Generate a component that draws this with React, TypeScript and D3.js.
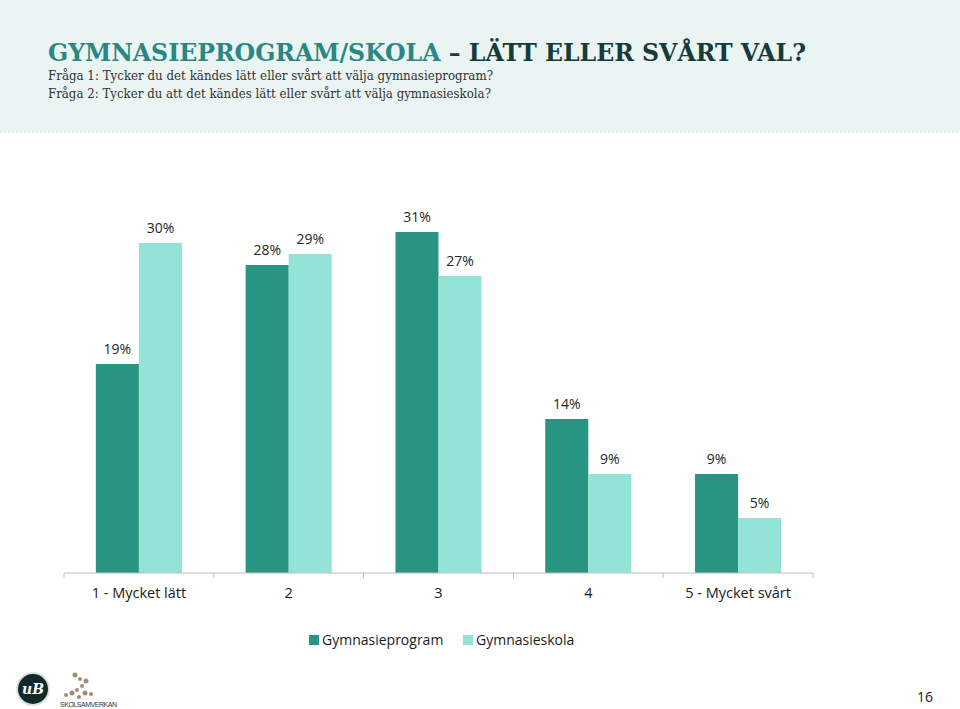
import React, { useRef, useEffect, useCallback } from 'react';
import * as d3 from 'd3';

const categories = ['1 - Mycket lätt', '2', '3', '4', '5 - Mycket svårt'];
const seriesNames = ['Gymnasieprogram', 'Gymnasieskola'];
const program = [19, 28, 31, 14, 9];
const skola = [30, 29, 27, 9, 5];

const width = 960;
const height = 709;
const margin = { top: 140, right: 147, bottom: 136, left: 64 };
const colors = ['#279582', '#93e3d6'];

const App: React.FC = () => {
  const chartRef = useRef<HTMLDivElement>(null);

  const draw = useCallback(() => {
    d3.select(chartRef.current).selectAll('svg').remove();
    const svg = d3
      .select(chartRef.current)
      .append('svg')
      .attr('width', width)
      .attr('height', height)
      .style('position', 'absolute')
      .style('left', 0)
      .style('top', 0)
      .style('background', '#fff');

    // header band
    svg.append('rect').attr('x', 0).attr('y', 0).attr('width', width).attr('height', 132).attr('fill', '#e9f4f3');
    svg
      .append('line')
      .attr('x1', 0)
      .attr('x2', width)
      .attr('y1', 132.5)
      .attr('y2', 132.5)
      .attr('stroke', '#d4e4e2')
      .attr('stroke-dasharray', '2,2');

    const title = svg
      .append('text')
      .attr('x', 48)
      .attr('y', 61)
      .attr('font-family', '"DejaVu Serif", serif')
      .attr('font-weight', 'bold')
      .attr('font-size', 24)
      .attr('textLength', 758)
      .attr('lengthAdjust', 'spacingAndGlyphs');
    title.append('tspan').attr('fill', '#2a8784').text('GYMNASIEPROGRAM/SKOLA');
    title.append('tspan').attr('fill', '#173a3a').text(' – LÄTT ELLER SVÅRT VAL?');

    const subs = [
      { t: 'Fråga 1: Tycker du det kändes lätt eller svårt att välja gymnasieprogram?', y: 80, w: 445 },
      { t: 'Fråga 2: Tycker du att det kändes lätt eller svårt att välja gymnasieskola?', y: 98, w: 443 },
    ];
    svg
      .selectAll('text.sub')
      .data(subs)
      .join('text')
      .attr('class', 'sub')
      .attr('x', 48)
      .attr('y', (d) => d.y)
      .attr('font-family', '"DejaVu Serif", serif')
      .attr('font-size', 12.5)
      .attr('fill', '#333')
      .attr('textLength', (d) => d.w)
      .attr('lengthAdjust', 'spacingAndGlyphs')
      .text((d) => d.t);

    const x0 = d3
      .scaleBand()
      .domain(categories)
      .range([margin.left, width - margin.right]);
    const x1 = d3
      .scaleBand()
      .domain(seriesNames)
      .range([0, x0.bandwidth()])
      .paddingInner(0)
      .paddingOuter(0.74);
    const y = d3
      .scaleLinear()
      .domain([0, 31])
      .range([height - margin.bottom, height - margin.bottom - 341]);

    const rows = categories.map((c, i) => ({ c, vals: [program[i], skola[i]] }));

    const groups = svg
      .append('g')
      .selectAll('g')
      .data(rows)
      .join('g')
      .attr('transform', (d) => `translate(${x0(d.c)},0)`);

    groups
      .selectAll('rect')
      .data((d) => d.vals.map((v, j) => ({ v, s: seriesNames[j], j })))
      .join('rect')
      .attr('x', (d) => x1(d.s) ?? 0)
      .attr('y', (d) => y(d.v))
      .attr('width', x1.bandwidth())
      .attr('height', (d) => y(0) - y(d.v))
      .attr('fill', (d) => colors[d.j]);

    groups
      .selectAll('text')
      .data((d) => d.vals.map((v, j) => ({ v, s: seriesNames[j] })))
      .join('text')
      .attr('x', (d) => (x1(d.s) ?? 0) + x1.bandwidth() / 2)
      .attr('y', (d) => y(d.v) - 10)
      .attr('text-anchor', 'middle')
      .attr('font-family', '"Open Sans", sans-serif')
      .attr('font-size', 14)
      .attr('fill', '#262626')
      .text((d) => `${d.v}%`);

    // axis
    const axis = svg.append('g').attr('transform', `translate(0,${y(0)})`);
    axis
      .append('line')
      .attr('x1', margin.left)
      .attr('x2', width - margin.right)
      .attr('stroke', '#bfbfbf');
    const edges = [...categories.map((c) => x0(c) ?? 0), width - margin.right];
    axis
      .selectAll('line.tick')
      .data(edges)
      .join('line')
      .attr('class', 'tick')
      .attr('x1', (d) => d)
      .attr('x2', (d) => d)
      .attr('y1', 0)
      .attr('y2', 5)
      .attr('stroke', '#bfbfbf');
    axis
      .selectAll('text')
      .data(categories)
      .join('text')
      .attr('x', (d) => (x0(d) ?? 0) + x0.bandwidth() / 2)
      .attr('y', 25)
      .attr('text-anchor', 'middle')
      .attr('font-family', '"Open Sans", sans-serif')
      .attr('font-size', 14.5)
      .attr('fill', '#1a1a1a')
      .text((d) => d);

    // legend
    const legendX = [309, 463];
    const legend = svg
      .append('g')
      .selectAll('g')
      .data(seriesNames)
      .join('g')
      .attr('transform', (d, i) => `translate(${legendX[i]},635)`);
    legend
      .append('rect')
      .attr('width', 10)
      .attr('height', 10)
      .attr('fill', (d, i) => colors[i]);
    legend
      .append('text')
      .attr('x', 13)
      .attr('y', 10)
      .attr('font-family', '"Open Sans", sans-serif')
      .attr('font-size', 14)
      .attr('fill', '#1a1a1a')
      .text((d) => d);

    // logos
    svg.append('circle').attr('cx', 33).attr('cy', 689).attr('r', 17).attr('fill', '#d9e3dc');
    svg.append('circle').attr('cx', 33).attr('cy', 689).attr('r', 15).attr('fill', '#10292b');
    svg
      .append('text')
      .attr('x', 33)
      .attr('y', 694)
      .attr('text-anchor', 'middle')
      .attr('font-family', '"DejaVu Serif", serif')
      .attr('font-style', 'italic')
      .attr('font-weight', 'bold')
      .attr('font-size', 14)
      .attr('fill', '#fff')
      .text('uB');
    const dots = [
      [75, 675, 2.5],
      [80, 679, 2],
      [86, 681, 2.5],
      [82, 686, 2],
      [77, 690, 2],
      [72, 693, 2.5],
      [66, 695, 2],
      [85, 693, 2.5],
      [91, 694, 2],
      [79, 697, 2],
    ];
    svg
      .append('g')
      .selectAll('circle')
      .data(dots)
      .join('circle')
      .attr('cx', (d) => d[0])
      .attr('cy', (d) => d[1])
      .attr('r', (d) => d[2])
      .attr('fill', '#8a6d55')
      .attr('opacity', 0.8);
    svg
      .append('text')
      .attr('x', 60)
      .attr('y', 707)
      .attr('font-family', '"Liberation Sans", sans-serif')
      .attr('font-size', 7)
      .attr('fill', '#333')
      .attr('textLength', 57)
      .text('SKOLSAMVERKAN');

    svg
      .append('text')
      .attr('x', 925)
      .attr('y', 702)
      .attr('text-anchor', 'middle')
      .attr('font-family', '"Open Sans", sans-serif')
      .attr('font-size', 14)
      .attr('fill', '#222')
      .text('16');
  }, []);

  useEffect(() => {
    draw();
  }, [draw]);

  return <div ref={chartRef} />;
};

export default App;
